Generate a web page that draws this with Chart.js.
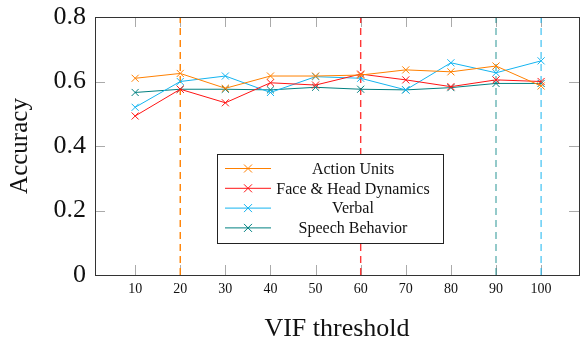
<!DOCTYPE html>
<html>
<head>
<meta charset="utf-8">
<script src="https://cdn.jsdelivr.net/npm/chart.js@4"></script>
<style>
  html, body { margin: 0; padding: 0; background: #fff; }
  #wrap { width: 580px; height: 345px; }
</style>
</head>
<body>
<div id="wrap"><canvas id="vifChart" width="580" height="345"></canvas></div>
<script>
// VIF thresholds on the x axis
const thresholds = [10, 20, 30, 40, 50, 60, 70, 80, 90, 100];

// accuracy per feature group
const actionUnits    = [0.610, 0.625, 0.579, 0.617, 0.617, 0.620, 0.636, 0.630, 0.648, 0.586];
const faceHead       = [0.493, 0.576, 0.534, 0.596, 0.589, 0.623, 0.605, 0.584, 0.605, 0.600];
const verbal         = [0.520, 0.600, 0.617, 0.566, 0.615, 0.610, 0.574, 0.658, 0.627, 0.664];
const speechBehavior = [0.566, 0.576, 0.576, 0.574, 0.582, 0.576, 0.574, 0.581, 0.594, 0.594];

const seriesNames = ['Action Units', 'Face & Head Dynamics', 'Verbal', 'Speech Behavior'];
const seriesColors = ['rgb(255,128,0)', 'rgb(255,20,20)', 'rgb(20,180,240)', 'rgb(0,128,128)'];

// best threshold per group (dashed markers)
const bestThresholds = [20, 60, 100, 90];
const bestColors = ['rgb(255,128,0)', 'rgba(255,20,20,0.85)', 'rgba(20,180,240,0.7)', 'rgba(0,128,128,0.6)'];

const yTicks = [0, 0.2, 0.4, 0.6, 0.8];

const serif = '"Liberation Serif", "DejaVu Serif", serif';

function toPoints(values) {
    return values.map((v, i) => ({ x: thresholds[i], y: v }));
}

const lineSets = [actionUnits, faceHead, verbal, speechBehavior].map((vals, i) => ({
    label: seriesNames[i],
    data: toPoints(vals),
    borderColor: seriesColors[i],
    backgroundColor: seriesColors[i],
    borderWidth: 1,
    pointStyle: 'cross',
    rotation: 45,
    pointRadius: 5,
    pointBorderWidth: 1,
    tension: 0
}));

const dashSets = bestThresholds.map((t, i) => ({
    label: 'best ' + seriesNames[i],
    data: [{ x: t, y: 0 }, { x: t, y: 0.8 }],
    borderColor: bestColors[i],
    borderWidth: 1.4,
    borderDash: [7, 5],
    pointRadius: 0,
    order: 10
}));

// frame + inner tick marks (pgfplots style)
const frameTicks = {
    id: 'frameTicks',
    beforeDatasetsDraw(chart) {
        const { ctx, chartArea: a, scales } = chart;
        ctx.save();
        ctx.strokeStyle = '#aaa';
        ctx.lineWidth = 1;
        thresholds.forEach(t => {
            const px = Math.round(scales.x.getPixelForValue(t)) + 0.5;
            ctx.beginPath();
            ctx.moveTo(px, a.bottom); ctx.lineTo(px, a.bottom - 10);
            ctx.moveTo(px, a.top); ctx.lineTo(px, a.top + 10);
            ctx.stroke();
        });
        yTicks.forEach(v => {
            const py = Math.round(scales.y.getPixelForValue(v)) + 0.5;
            ctx.beginPath();
            ctx.moveTo(a.left, py); ctx.lineTo(a.left + 10, py);
            ctx.moveTo(a.right, py); ctx.lineTo(a.right - 10, py);
            ctx.stroke();
        });
        ctx.restore();
    },
    afterDraw(chart) {
        const { ctx, chartArea: a } = chart;
        ctx.save();
        ctx.strokeStyle = '#333';
        ctx.lineWidth = 1;
        ctx.strokeRect(Math.round(a.left) + 0.5, Math.round(a.top) + 0.5,
            Math.round(a.right - a.left), Math.round(a.bottom - a.top));
        ctx.restore();
    }
};

// boxed legend in the middle of the plot
const boxLegend = {
    id: 'boxLegend',
    afterDraw(chart) {
        const { ctx } = chart;
        const x0 = 217, y0 = 154, w = 226, h = 89, rowH = 19.8;
        ctx.save();
        ctx.fillStyle = '#fff';
        ctx.fillRect(x0, y0, w, h);
        ctx.strokeStyle = '#222';
        ctx.lineWidth = 1;
        ctx.strokeRect(x0 + 0.5, y0 + 0.5, w, h);
        ctx.font = '16px ' + serif;
        ctx.textAlign = 'center';
        ctx.textBaseline = 'middle';
        seriesNames.forEach((name, i) => {
            const cy = y0 + 14.5 + i * rowH;
            ctx.strokeStyle = seriesColors[i];
            ctx.lineWidth = 1;
            ctx.beginPath();
            ctx.moveTo(225, cy); ctx.lineTo(271, cy);
            ctx.moveTo(244, cy - 4); ctx.lineTo(252, cy + 4);
            ctx.moveTo(244, cy + 4); ctx.lineTo(252, cy - 4);
            ctx.stroke();
            ctx.fillStyle = '#111';
            ctx.fillText(name, 353, cy + 1);
        });
        ctx.restore();
    }
};

const ctx = document.getElementById('vifChart').getContext('2d');
new Chart(ctx, {
    type: 'line',
    data: { datasets: [...dashSets, ...lineSets] },
    options: {
        responsive: false,
        animation: false,
        layout: { autoPadding: false, padding: { top: 17, right: 1, left: 0, bottom: 0 } },
        plugins: {
            legend: { display: false },
            tooltip: { enabled: false }
        },
        scales: {
            x: {
                type: 'linear',
                min: 1.1,
                max: 108.4,
                afterBuildTicks: s => { s.ticks = thresholds.map(v => ({ value: v })); },
                afterFit: s => { s.height = 70; s.paddingLeft = 0; s.paddingRight = 0; },
                grid: { display: false, drawTicks: false },
                border: { display: false },
                ticks: {
                    color: '#111',
                    font: { family: serif, size: 14 },
                    padding: 6,
                    maxRotation: 0,
                    autoSkip: false
                },
                title: {
                    display: true,
                    text: 'VIF threshold',
                    color: '#111',
                    font: { family: serif, size: 26 },
                    padding: { top: 0, bottom: 0 }
                }
            },
            y: {
                min: 0,
                max: 0.8,
                afterBuildTicks: s => { s.ticks = yTicks.map(v => ({ value: v })); },
                afterFit: s => { s.width = 95; s.paddingTop = 0; s.paddingBottom = 0; },
                grid: { display: false, drawTicks: false },
                border: { display: false },
                ticks: {
                    color: '#111',
                    font: { family: serif, size: 26 },
                    padding: 9,
                    callback: v => (v === 0 ? '0' : v.toFixed(1))
                },
                title: {
                    display: true,
                    text: 'Accuracy',
                    color: '#111',
                    font: { family: serif, size: 25 },
                    padding: { top: 5, bottom: 0 }
                }
            }
        }
    },
    plugins: [frameTicks, boxLegend]
});
</script>
</body>
</html>
